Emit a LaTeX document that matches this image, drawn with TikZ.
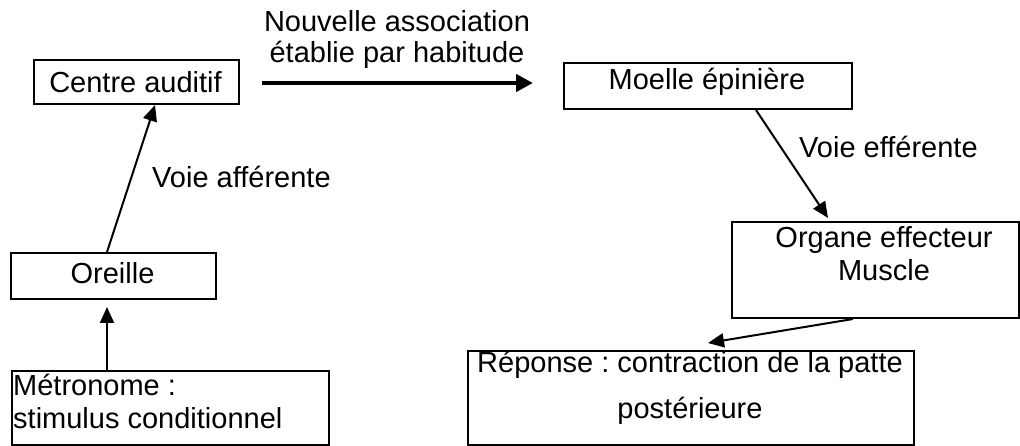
\documentclass[tikz,border=0pt]{standalone}
\usepackage{fontspec}
\setmainfont{Liberation Sans}
\usetikzlibrary{arrows.meta}
\frenchspacing
\begin{document}
\begin{tikzpicture}[x=1pt,y=-1pt,
  box/.style={draw=black, line width=2pt, rectangle, inner sep=0pt, anchor=north west},
  txt/.style={font=\fontsize{29}{33}\selectfont\frenchspacing, inner sep=0pt, anchor=base},
  txtl/.style={txt, anchor=base west},
  conn/.style={line width=2pt, -{Triangle[length=16pt,width=14pt]}},
  thickconn/.style={line width=4.5pt, -{Triangle[length=17pt,width=17pt]}},
]
\useasboundingbox (0,0) rectangle (1020,446);

% boxes
\node[box, minimum width=205pt, minimum height=44pt] (centre) at (33,59) {};
\node[box, minimum width=288pt, minimum height=46pt] (moelle) at (563,62) {};
\node[box, minimum width=205pt, minimum height=46pt] (oreille) at (10,252) {};
\node[box, minimum width=287pt, minimum height=96pt] (organe) at (731,221) {};
\node[box, minimum width=317pt, minimum height=74pt] (metro) at (11,370) {};
\node[box, minimum width=446pt, minimum height=94pt] (reponse) at (467,350) {};

% texts
\node[txt] (tcentre) at (135.5,92.5) {Centre auditif};
\node[txt] (tmoelle) at (707,90) {Moelle épinière};
\node[txt] (toreille) at (112.5,283.5) {Oreille};
\node[txt] (torgane1) at (884,247.5) {Organe effecteur};
\node[txt] (torgane2) at (884,280.5) {Muscle};
\node[txtl] (tmetro1) at (13,395) {Métronome :};
\node[txtl] (tmetro2) at (13,428) {stimulus conditionnel};
\node[txt] (trep1) at (690,372) {Réponse : contraction de la patte};
\node[txt] (trep2) at (690,418) {postérieure};
\node[txt] (tnouv1) at (397,32) {Nouvelle association};
\node[txt] (tnouv2) at (397,63) {établie par habitude};
\node[txtl] (taff) at (152,187.5) {Voie afférente};
\node[txtl] (teff) at (799,157.5) {Voie efférente};

% connectors
\coordinate (assocA) at (262,83);
\coordinate (assocB) at (533,83);
\draw[thickconn] (assocA) -- (assocB);
\draw[conn] ([xshift=97pt]oreille.north west) -- ([xshift=122pt]centre.south west);
\draw[conn] ([xshift=96pt]metro.north west) -- ([xshift=97pt,yshift=-7pt]oreille.south west);
\draw[conn] ([xshift=193pt]moelle.south west) -- ([xshift=97pt,yshift=3pt]organe.north west);
\draw[conn] ([xshift=122pt]organe.south west) -- ([xshift=241pt,yshift=7pt]reponse.north west);
\end{tikzpicture}
\end{document}
